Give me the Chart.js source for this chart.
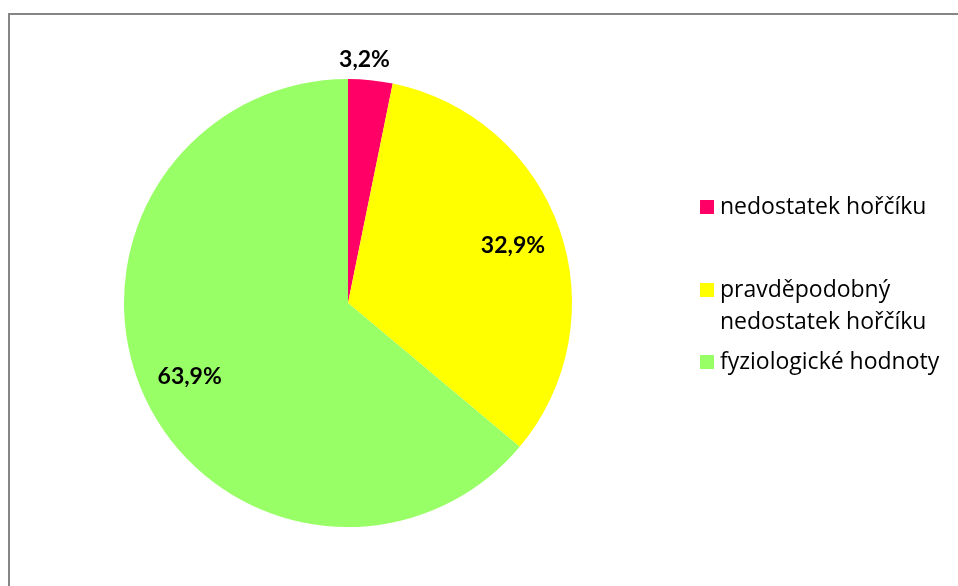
<!DOCTYPE html>
<html>
<head>
<meta charset="utf-8">
<script src="https://cdn.jsdelivr.net/npm/chart.js@4"></script>
<style>
  html, body { margin: 0; padding: 0; background: #fff; }
  #wrap { position: relative; width: 958px; height: 586px; overflow: hidden; }
  #frame {
    position: absolute; left: 8px; top: 13px; width: 1000px; height: 600px;
    border-left: 2px solid #858585; border-top: 2px solid #858585;
  }
  canvas { position: absolute; left: 0; top: 0; }
</style>
</head>
<body>
<div id="wrap">
  <div id="frame"></div>
  <canvas id="pieChart" width="958" height="586"></canvas>
</div>
<script>
const categories = [["nedostatek hořčíku"], ["pravděpodobný", "nedostatek hořčíku"], ["fyziologické hodnoty"]];
const shares = [3.2, 32.9, 63.9];
const sliceColors = ["#ff0066", "#ffff00", "#99ff66"];

// percentages in Czech notation, bold, inside the big slices and above the small one
const sliceLabels = {
  id: "sliceLabels",
  afterDatasetsDraw(chart) {
    const ctx = chart.ctx;
    const arcs = chart.getDatasetMeta(0).data;
    ctx.save();
    ctx.font = "bold 23px Lato";
    ctx.fillStyle = "#000";
    ctx.textAlign = "center";
    ctx.textBaseline = "middle";
    arcs.forEach((arc, i) => {
      const p = arc.getProps(["x", "y", "startAngle", "endAngle", "outerRadius"], true);
      const mid = (p.startAngle + p.endAngle) / 2;
      const f = shares[i] < 5 ? 1.09 : 0.78;
      const x = p.x + Math.cos(mid) * p.outerRadius * f - (shares[i] < 5 ? 8 : 0);
      const y = p.y + Math.sin(mid) * p.outerRadius * f;
      ctx.fillText(shares[i].toFixed(1).replace(".", ",") + "%", x, y);
    });
    ctx.restore();
  }
};

// legend on the right, with the long entry wrapped onto two lines
const sideLegend = {
  id: "sideLegend",
  afterDraw(chart) {
    const ctx = chart.ctx;
    const rows = [207, 290, 362];
    ctx.save();
    ctx.font = "23px 'Open Sans'";
    ctx.textBaseline = "middle";
    categories.forEach((lines, i) => {
      ctx.fillStyle = sliceColors[i];
      ctx.fillRect(700, rows[i] - 7, 14, 14);
      ctx.fillStyle = "#000";
      lines.forEach((t, j) => ctx.fillText(t, 720, rows[i] + j * 32));
    });
    ctx.restore();
  }
};

new Chart("pieChart", {
  type: "pie",
  data: {
    labels: categories.map(c => c.join(" ")),
    datasets: [{
      data: shares,
      backgroundColor: sliceColors,
      borderWidth: 0
    }]
  },
  options: {
    responsive: false,
    animation: false,
    layout: { padding: { left: 124, right: 386, top: 79, bottom: 59 } },
    plugins: {
      legend: { display: false },
      tooltip: { enabled: false }
    }
  },
  plugins: [sliceLabels, sideLegend]
});
</script>
</body>
</html>
